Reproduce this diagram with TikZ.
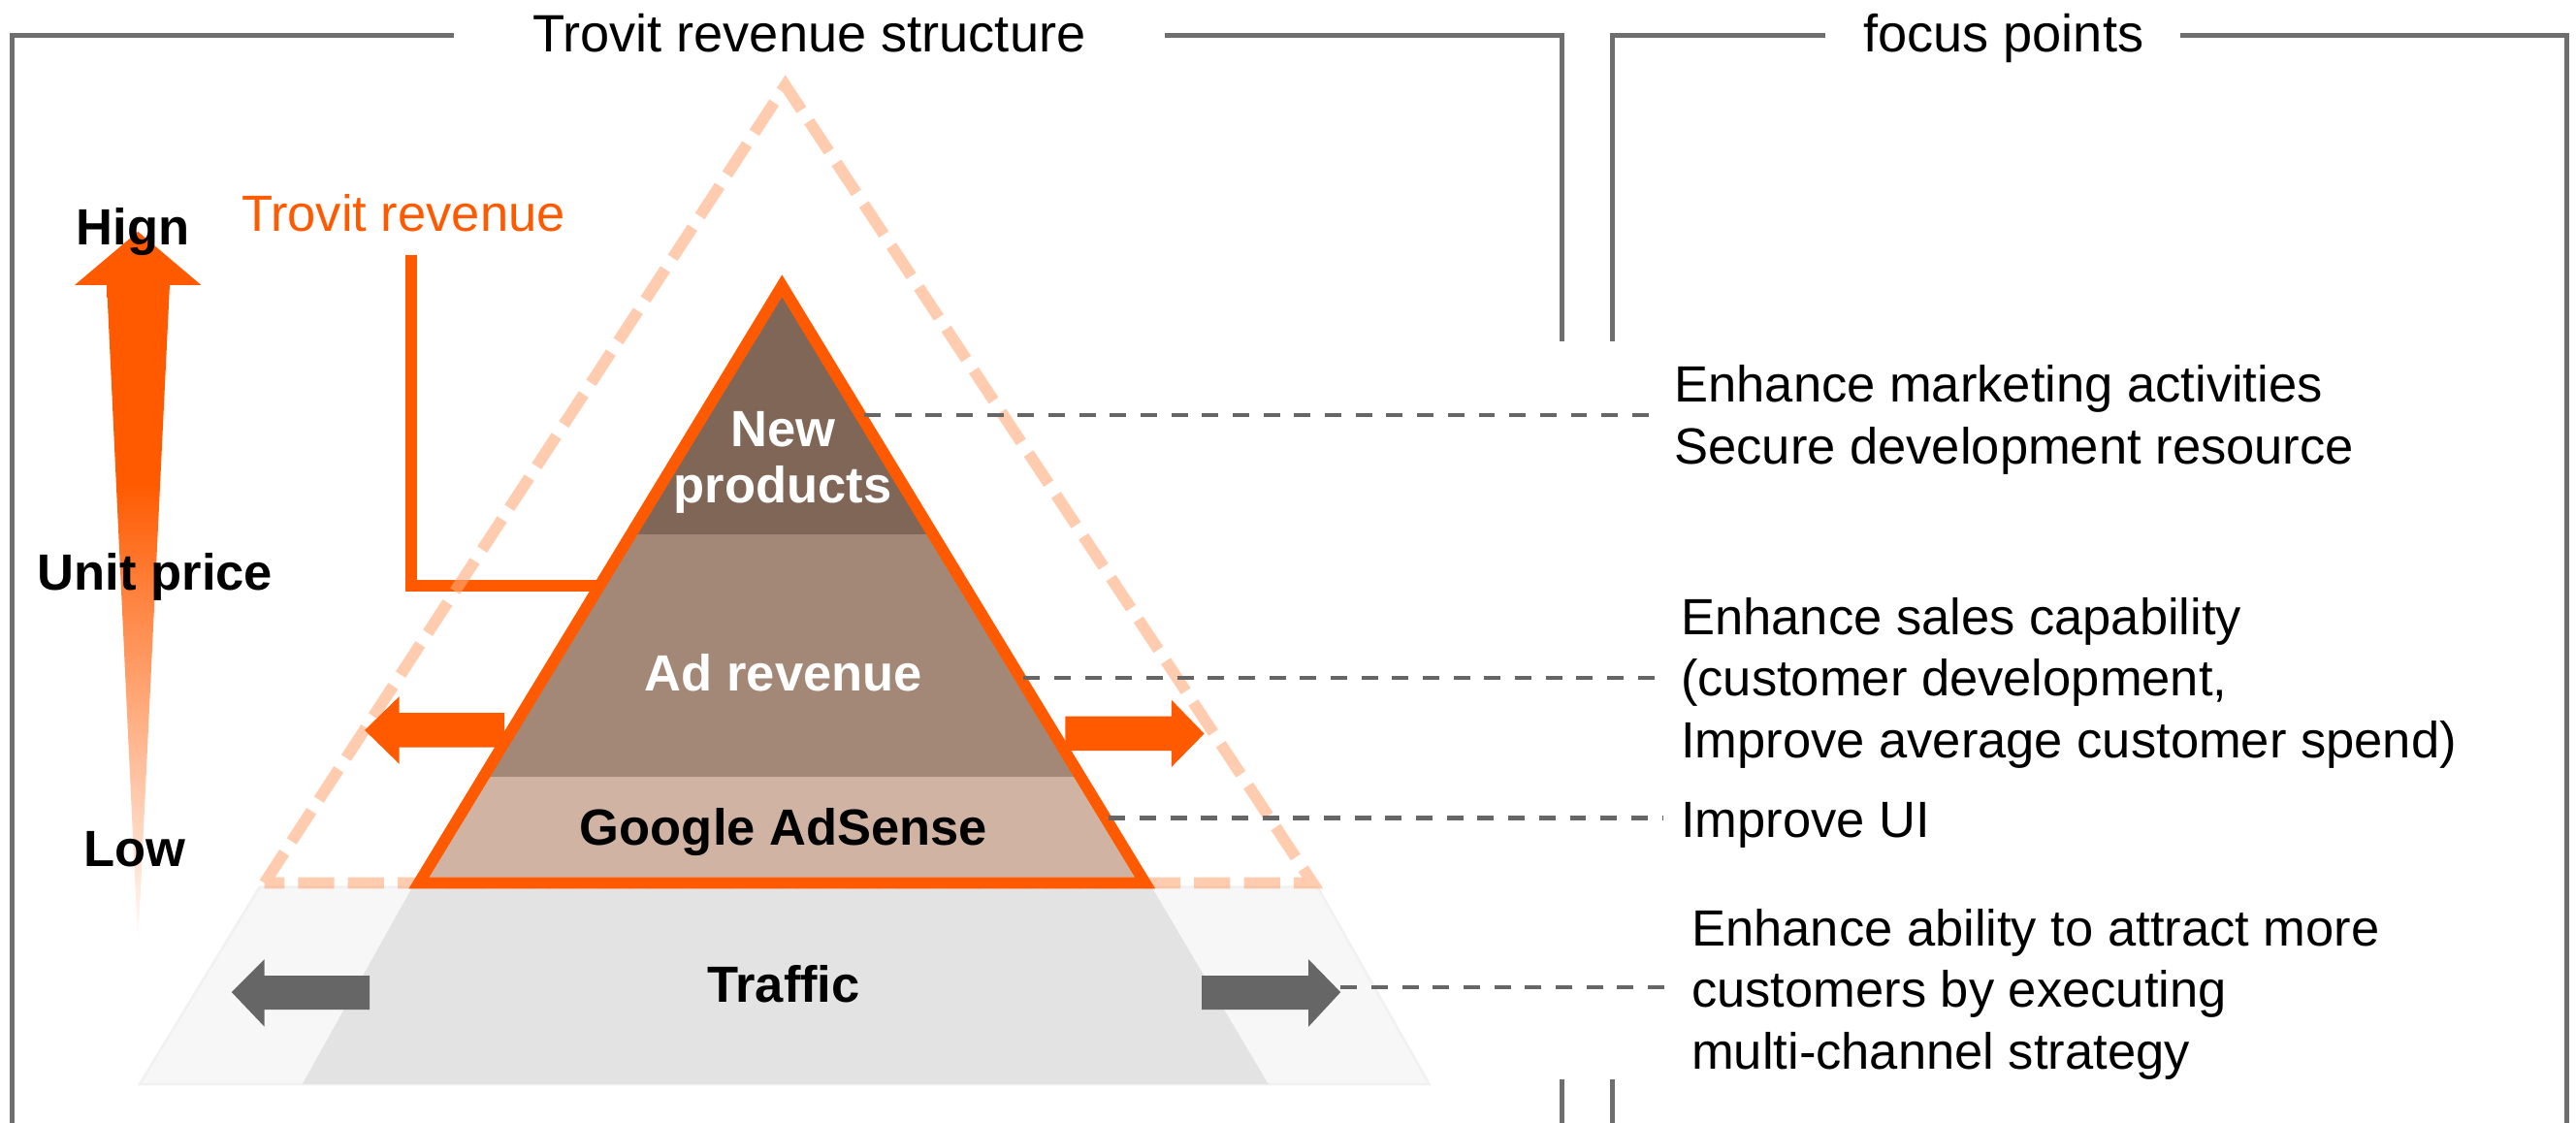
\documentclass[tikz,border=0pt]{standalone}
\usepackage{fontspec}
\setmainfont{Liberation Sans}
\usepackage{tikz}
\usetikzlibrary{calc}

\definecolor{trovit}{HTML}{FF5A00}
\definecolor{peach}{HTML}{FFAA7B}
\definecolor{newprod}{HTML}{806656}
\definecolor{adrev}{HTML}{A38877}
\definecolor{adsense}{HTML}{D1B3A3}
\definecolor{trafdark}{HTML}{E3E3E3}
\definecolor{traflight}{HTML}{F7F7F7}
\definecolor{trafedge}{HTML}{F1F1F1}
\definecolor{framegray}{HTML}{6E6E6E}
\definecolor{arrowgray}{HTML}{666666}

% solid at the top, fading out towards the bottom
\pgfdeclareverticalshading{pricefade}{100bp}{color(0bp)=(white); color(25bp)=(white); color(60bp)=(trovit); color(100bp)=(trovit)}

\tikzset{
	lbl/.style={inner sep=0pt, font=\fontsize{31}{37.5}\selectfont},
	boldlbl/.style={inner sep=0pt, font=\fontsize{31}{34}\selectfont\bfseries, align=center, anchor=base},
	focus/.style={lbl, align=left, anchor=base west},
	title/.style={inner sep=0pt, font=\fontsize{32}{38}\selectfont, anchor=base},
	frame/.style={draw=framegray, line width=3pt, line join=miter},
	link/.style={draw=arrowgray, line width=2.6pt, dash pattern=on 10pt off 8.7pt},
	revline/.style={draw=trovit, line width=7pt, line join=miter},
}

\begin{document}
\begin{tikzpicture}[x=1pt,y=-1pt]
	\useasboundingbox (0,0) rectangle (1568,683.6);

	% frames
	\draw[frame] (276,21.7) -- (7.3,21.7) -- (7.3,690);
	\draw[frame] (709,21.7) -- (950.5,21.7) -- (950.5,207.8);
	\draw[frame] (950.5,657) -- (950.5,690);
	\draw[frame] (981.4,207.8) -- (981.4,21.7) -- (1111,21.7);
	\draw[frame] (1327.4,21.7) -- (1562.5,21.7) -- (1562.5,690);
	\draw[frame] (981.4,657) -- (981.4,690);
	\node[title] (revtitle) at (492.5,31.6) {Trovit revenue structure};
	\node[title] (focustitle) at (1219.5,31.6) {focus points};

	% traffic layer
	\filldraw[fill=traflight, draw=trafedge, line width=1.5pt] (158,540) -- (802,540) -- (870,660) -- (85,660) -- cycle;
	\fill[trafdark] (251,540) -- (701,540) -- (772,660) -- (184,660) -- cycle;
	\fill[arrowgray] (225,594) -- (161,594) -- (161,584) -- (141,604) -- (161,625) -- (161,614.7) -- (225,614.7) -- cycle;
	\fill[arrowgray] (731.5,594) -- (796.5,594) -- (796.5,584) -- (816,604) -- (796.5,625) -- (796.5,614.7) -- (731.5,614.7) -- cycle;
	\coordinate (etraf) at (816,601);

	% pointer to the revenue block
	\node[lbl, text=trovit, anchor=base] (revlbl) at (245.5,140.5) {Trovit revenue};
	\coordinate (pyrleft) at (365,356.7);
	\draw[revline] ([xshift=5pt,yshift=-14pt]revlbl.south) |- (pyrleft);

	% potential (dashed outline)
	\draw[peach, draw opacity=0.6, line width=7pt, line join=miter, dash pattern=on 22pt off 8.3pt]
		(161,537.5) -- (478,52) -- (799,537.5) -- cycle;

	% revenue pyramid
	\coordinate (apex) at (476,174);
	\coordinate (bl) at (255,537.5);
	\coordinate (br) at (697,537.5);
	\begin{scope}
		\clip (apex) -- (br) -- (bl) -- cycle;
		\fill[newprod] (240,150) rectangle (720,325);
		\fill[adrev] (240,325) rectangle (720,473);
		\fill[adsense] (240,473) rectangle (720,545);
	\end{scope}
	\draw[trovit, line width=7pt, line join=miter] (apex) -- (br) -- (bl) -- cycle;

	% growth arrows
	\fill[trovit] (307,434) -- (243,434) -- (243,424) -- (222,444.5) -- (243,465) -- (243,455) -- (307,455) -- cycle;
	\fill[trovit] (648.5,436) -- (713,436) -- (713,426) -- (733,446.6) -- (713,467) -- (713,457) -- (648.5,457) -- cycle;

	\node[boldlbl, text=white] (newp) at (476.5,306) {New\\products};
	\node[boldlbl, text=white] (adr) at (477,420.8) {Ad revenue};
	\node[boldlbl] (ads) at (477,514.6) {Google AdSense};
	\node[boldlbl] (traf) at (477,610.3) {Traffic};

	% unit price scale
	\shade[shading=pricefade] (65,173.3) -- (103.3,173.3) -- (84,575) -- cycle;
	\fill[trovit] (45.5,173.5) -- (84,141) -- (122.4,173.5) -- cycle;
	\node[boldlbl] (high) at (81,149) {Hign};
	\node[boldlbl] (unit) at (94.5,359) {Unit price};
	\node[boldlbl] (low) at (82,527.7) {Low};

	% focus points
	\node[focus] (fnew) at (1019,282.4) {Enhance marketing activities\\Secure development resource};
	\node[focus] (fad) at (1023,461.3) {Enhance sales capability\\(customer development,\\Improve average customer spend)};
	\node[focus] (fsense) at (1023,509.6) {Improve UI};
	\node[focus] (ftraf) at (1029.5,650.8) {Enhance ability to attract more\\customers by executing\\multi-channel strategy};

	\coordinate (enew) at (526,252.5);
	\coordinate (ead) at (623,412.5);
	\coordinate (esense) at (675,498);
	\draw[link, shorten >=11.5pt] (enew) -- (enew -| fnew.west);
	\draw[link, shorten >=11.3pt] (ead) -- (ead -| fad.west);
	\draw[link, shorten >=11.3pt] (esense) -- (esense -| fsense.west);
	\draw[link, shorten >=13.5pt] (etraf) -- (etraf -| ftraf.west);
\end{tikzpicture}
\end{document}
